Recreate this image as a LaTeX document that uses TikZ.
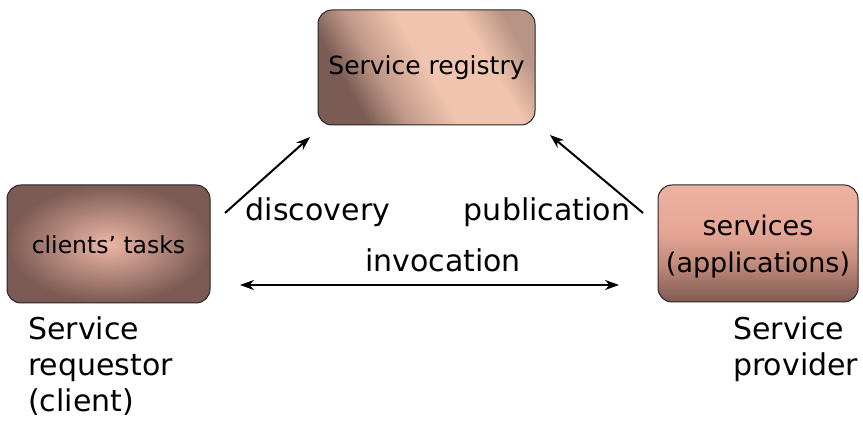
\documentclass[tikz,border=0pt]{standalone}
\usepackage{fontspec}
\setmainfont{DejaVu Sans}
\usetikzlibrary{arrows.meta}
\definecolor{regdark}{HTML}{7A5C54}
\definecolor{regmid}{HTML}{C29A8A}
\definecolor{reglight}{HTML}{F0C4AE}
\definecolor{regedge}{HTML}{B89484}
\definecolor{servdark}{HTML}{7E5A52}
\definecolor{servmid}{HTML}{C48C7C}
\definecolor{servlight}{HTML}{E6A696}
\definecolor{servtop}{HTML}{ECB2A2}
\definecolor{cliin}{HTML}{EDB6A6}
\definecolor{cliout}{HTML}{7B5B53}
\pgfdeclarehorizontalshading{regshade}{100bp}{
  color(0bp)=(regdark); color(28bp)=(regdark); color(38bp)=(regmid);
  color(50bp)=(reglight); color(66bp)=(reglight); color(76bp)=(regedge); color(100bp)=(regedge)}
\pgfdeclareverticalshading{servshade}{100bp}{
  color(0bp)=(servdark); color(25bp)=(servdark); color(42bp)=(servmid);
  color(55bp)=(servlight); color(75bp)=(servtop); color(100bp)=(servtop)}
\tikzset{
  box/.style={draw=black!85, line width=1pt, rounded corners=14pt, inner sep=0pt},
  tip/.tip={Stealth[length=14pt,width=10pt]},
  conn/.style={line width=2pt, -tip},
  big/.style={font=\fontsize{30}{36}\selectfont, inner sep=0pt}
}
\begin{document}
\begin{tikzpicture}[x=1pt,y=-1pt]
\useasboundingbox[fill=white] (0,0) rectangle (863,427);
% boxes
\path[box, shading=regshade, shading angle=30] (318,10) rectangle (535,125);
\node[inner sep=0pt, font=\fontsize{25}{30}\selectfont] (reg) at (426.5,67.5) {Service registry};
\path[box, inner color=cliin, outer color=cliout] (7,185) rectangle (210,303);
\node[inner sep=0pt, font=\fontsize{23.5}{28}\selectfont] (cli) at (108.5,245) {clients' tasks};
\path[box, shading=servshade] (658,185) rectangle (858,302);
\node[align=center, inner sep=0pt, font=\fontsize{27}{37}\selectfont] (serv) at (758,247) {services\\(applications)};
% connector ends
\coordinate (d1) at (225,213);
\coordinate (d2) at (310,137);
\coordinate (p1) at (643,213);
\coordinate (p2) at (550,135);
\coordinate (i1) at (240,285);
\coordinate (i2) at (619,285);
\draw[conn] (d1) -- (d2);
\draw[conn] (p1) -- (p2);
\draw[conn, tip-tip] (i1) -- (i2);
% labels
\node[big, anchor=base] (disc) at (318,221) {discovery};
\node[big, anchor=base] (pub) at (547,221) {publication};
\node[big, anchor=base] (inv) at (443,272) {invocation};
\node[big, align=left, anchor=north west] (req) at (28,317) {Service\\requestor\\(client)};
\node[big, align=left, anchor=north west] (prov) at (733,317) {Service\\provider};
\end{tikzpicture}
\end{document}
